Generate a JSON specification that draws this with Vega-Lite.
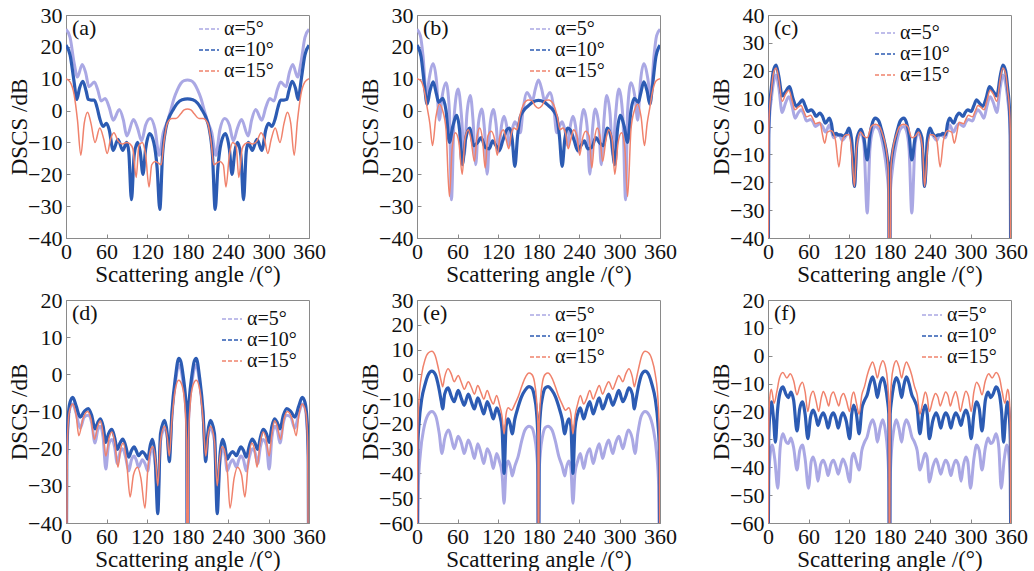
{
"$schema":"https://vega.github.io/schema/vega-lite/v6.json",
"background":"white",
"padding":{"left":8,"top":3,"right":5,"bottom":3},
"config":{
 "font":"'Liberation Serif', 'Times New Roman', 'DejaVu Serif', serif",
 "view":{"stroke":"#8a8a8a","strokeWidth":1},
 "axis":{"labelFont":"'Liberation Serif', 'Times New Roman', 'DejaVu Serif', serif","labelFontSize":22,"labelColor":"#111","titleFont":"'Liberation Serif', 'Times New Roman', 'DejaVu Serif', serif","titleFontSize":23,"titleFontWeight":"normal","titleColor":"#111","domainColor":"#8a8a8a","tickColor":"#8a8a8a","tickSize":-4,"grid":false,"labelPadding":8,"labelFlush":false,"labelOverlap":false,"labelBound":false},
 "axisX":{"titlePadding":1,"labelPadding":7},
 "axisY":{"titlePadding":-4},
 "legend":{"labelFont":"'Liberation Serif', 'Times New Roman', 'DejaVu Serif', serif","labelFontSize":20,"labelColor":"#111","symbolType":"stroke","symbolSize":400,"symbolStrokeWidth":1.6,"symbolDash":[4,2],"rowPadding":0,"padding":0,"labelOffset":4}
},
"datasets":{
"a5":[{"x":0,"y":25.5},{"x":6,"y":23},{"x":12,"y":15},{"x":17,"y":10.5},{"x":24,"y":14.5},{"x":29,"y":12},{"x":34,"y":7.5},{"x":42,"y":9},{"x":47,"y":6.5},{"x":52,"y":3},{"x":58,"y":3.8},{"x":64,"y":1},{"x":70,"y":-3},{"x":79,"y":0.3},{"x":85,"y":-3},{"x":90,"y":-8},{"x":100,"y":-2.8},{"x":106,"y":-5.5},{"x":112,"y":-9.5},{"x":118,"y":-4.5},{"x":125,"y":-2.5},{"x":132,"y":-6},{"x":138,"y":-14},{"x":144,"y":-7},{"x":150,"y":-3.5},{"x":155,"y":0},{"x":160,"y":3.8},{"x":165,"y":6.5},{"x":170,"y":8.5},{"x":175,"y":9.4},{"x":180,"y":9.6},{"x":185,"y":9.4},{"x":190,"y":8.5},{"x":195,"y":6.5},{"x":200,"y":3.8},{"x":205,"y":0},{"x":210,"y":-3.5},{"x":216,"y":-7},{"x":222,"y":-14},{"x":228,"y":-6},{"x":235,"y":-2.5},{"x":242,"y":-4.5},{"x":248,"y":-9.5},{"x":254,"y":-5.5},{"x":260,"y":-2.8},{"x":270,"y":-8},{"x":275,"y":-3},{"x":281,"y":0.3},{"x":290,"y":-3},{"x":296,"y":1},{"x":302,"y":3.8},{"x":308,"y":3},{"x":313,"y":6.5},{"x":318,"y":9},{"x":326,"y":7.5},{"x":331,"y":12},{"x":336,"y":14.5},{"x":343,"y":10.5},{"x":348,"y":15},{"x":354,"y":23},{"x":360,"y":25.5}],
"a10":[{"x":0,"y":20.5},{"x":6,"y":17.5},{"x":12,"y":9},{"x":16,"y":3.5},{"x":20,"y":7},{"x":25,"y":9.2},{"x":30,"y":6},{"x":33,"y":3.5},{"x":37,"y":3.3},{"x":42,"y":3.3},{"x":46,"y":1},{"x":50,"y":-2.5},{"x":55,"y":-5},{"x":60,"y":-4},{"x":64,"y":-6},{"x":70,"y":-12.5},{"x":77,"y":-9},{"x":84,"y":-12.5},{"x":90,"y":-10},{"x":93,"y":-13},{"x":97,"y":-28},{"x":101,"y":-14},{"x":106,"y":-10},{"x":110,"y":-13},{"x":114,"y":-20},{"x":118,"y":-12},{"x":124,"y":-7.2},{"x":130,"y":-10},{"x":135,"y":-18},{"x":139,"y":-31},{"x":143,"y":-14},{"x":148,"y":-5.5},{"x":153,"y":-2},{"x":158,"y":0},{"x":165,"y":2.3},{"x":172,"y":3.4},{"x":180,"y":3.7},{"x":188,"y":3.4},{"x":195,"y":2.3},{"x":202,"y":0},{"x":207,"y":-2},{"x":212,"y":-5.5},{"x":217,"y":-14},{"x":221,"y":-31},{"x":225,"y":-18},{"x":230,"y":-10},{"x":236,"y":-7.2},{"x":242,"y":-12},{"x":246,"y":-20},{"x":250,"y":-13},{"x":254,"y":-10},{"x":259,"y":-14},{"x":263,"y":-28},{"x":267,"y":-13},{"x":270,"y":-10},{"x":276,"y":-12.5},{"x":283,"y":-9},{"x":290,"y":-12.5},{"x":296,"y":-6},{"x":300,"y":-4},{"x":305,"y":-5},{"x":310,"y":-2.5},{"x":314,"y":1},{"x":318,"y":3.3},{"x":323,"y":3.3},{"x":327,"y":3.5},{"x":330,"y":6},{"x":335,"y":9.2},{"x":340,"y":7},{"x":344,"y":3.5},{"x":348,"y":9},{"x":354,"y":17.5},{"x":360,"y":20.5}],
"a15":[{"x":0,"y":10},{"x":6,"y":9},{"x":12,"y":5},{"x":17,"y":-3},{"x":22,"y":-14},{"x":27,"y":-4},{"x":32,"y":-0.5},{"x":37,"y":-4},{"x":43,"y":-10},{"x":50,"y":-5.5},{"x":56,"y":-9},{"x":61,"y":-13.5},{"x":66,"y":-9},{"x":71,"y":-7},{"x":77,"y":-9.5},{"x":84,"y":-10.5},{"x":90,"y":-10},{"x":95,"y":-10.5},{"x":99,"y":-12},{"x":104,"y":-21},{"x":108,"y":-11},{"x":113,"y":-10},{"x":118,"y":-14},{"x":123,"y":-24},{"x":127,"y":-17},{"x":132,"y":-16},{"x":137,"y":-16.5},{"x":141,"y":-17},{"x":145,"y":-10},{"x":150,"y":-4},{"x":157,"y":-2.5},{"x":163,"y":-2.5},{"x":170,"y":-1},{"x":175,"y":0.2},{"x":180,"y":0.5},{"x":185,"y":0.2},{"x":190,"y":-1},{"x":197,"y":-2.5},{"x":203,"y":-2.5},{"x":210,"y":-4},{"x":215,"y":-10},{"x":219,"y":-17},{"x":223,"y":-16.5},{"x":228,"y":-16},{"x":233,"y":-17},{"x":237,"y":-24},{"x":242,"y":-14},{"x":247,"y":-10},{"x":252,"y":-11},{"x":256,"y":-21},{"x":261,"y":-12},{"x":265,"y":-10.5},{"x":270,"y":-10},{"x":276,"y":-10.5},{"x":283,"y":-9.5},{"x":289,"y":-7},{"x":294,"y":-9},{"x":299,"y":-13.5},{"x":304,"y":-9},{"x":310,"y":-5.5},{"x":317,"y":-10},{"x":323,"y":-4},{"x":328,"y":-0.5},{"x":333,"y":-4},{"x":338,"y":-14},{"x":343,"y":-3},{"x":348,"y":5},{"x":354,"y":9},{"x":360,"y":10}],
"b5":[{"x":0,"y":25.5},{"x":5,"y":23.5},{"x":9,"y":17},{"x":14,"y":4},{"x":18,"y":10},{"x":24,"y":14.7},{"x":29,"y":9},{"x":33,"y":-3},{"x":37,"y":4},{"x":43,"y":8.7},{"x":48,"y":0},{"x":51,"y":-28},{"x":55,"y":-2},{"x":61,"y":6.8},{"x":66,"y":-2},{"x":70,"y":-14},{"x":74,"y":-1},{"x":79,"y":4.7},{"x":83,"y":-3},{"x":87,"y":-17},{"x":91,"y":-4},{"x":96,"y":0.5},{"x":100,"y":-6},{"x":104,"y":-20},{"x":108,"y":-5},{"x":113,"y":0.3},{"x":117,"y":-4},{"x":121,"y":-13},{"x":125,"y":-5},{"x":129,"y":-1.8},{"x":133,"y":-5},{"x":137,"y":-11},{"x":141,"y":-6},{"x":145,"y":-3.5},{"x":149,"y":-5},{"x":153,"y":-7},{"x":157,"y":0},{"x":163,"y":5.7},{"x":167,"y":4.5},{"x":171,"y":3},{"x":175,"y":6.5},{"x":180,"y":9.6},{"x":185,"y":6.5},{"x":189,"y":3},{"x":193,"y":4.5},{"x":197,"y":5.7},{"x":203,"y":0},{"x":207,"y":-7},{"x":211,"y":-5},{"x":215,"y":-3.5},{"x":219,"y":-6},{"x":223,"y":-11},{"x":227,"y":-5},{"x":231,"y":-1.8},{"x":235,"y":-5},{"x":239,"y":-13},{"x":243,"y":-4},{"x":247,"y":0.3},{"x":252,"y":-5},{"x":256,"y":-20},{"x":260,"y":-6},{"x":264,"y":0.5},{"x":269,"y":-4},{"x":273,"y":-17},{"x":277,"y":-3},{"x":281,"y":4.7},{"x":286,"y":-1},{"x":290,"y":-14},{"x":294,"y":-2},{"x":299,"y":6.8},{"x":305,"y":-2},{"x":309,"y":-28},{"x":312,"y":0},{"x":317,"y":8.7},{"x":323,"y":4},{"x":327,"y":-3},{"x":331,"y":9},{"x":336,"y":14.7},{"x":342,"y":10},{"x":346,"y":4},{"x":351,"y":17},{"x":355,"y":23.5},{"x":360,"y":25.5}],
"b10":[{"x":0,"y":20.5},{"x":6,"y":17},{"x":11,"y":8},{"x":15,"y":2},{"x":19,"y":6},{"x":24,"y":9},{"x":29,"y":5},{"x":32,"y":2.6},{"x":38,"y":3.8},{"x":43,"y":0},{"x":48,"y":-10},{"x":53,"y":-5},{"x":59,"y":-1.5},{"x":63,"y":-6},{"x":67,"y":-17},{"x":72,"y":-9},{"x":78,"y":-5.5},{"x":84,"y":-11},{"x":90,"y":-10},{"x":95,"y":-8.5},{"x":101,"y":-11.5},{"x":107,"y":-12},{"x":112,"y":-9.5},{"x":117,"y":-11},{"x":122,"y":-12.5},{"x":127,"y":-9.5},{"x":133,"y":-6},{"x":137,"y":-5.5},{"x":141,"y":-9},{"x":145,"y":-17.5},{"x":149,"y":-8},{"x":153,"y":-2},{"x":158,"y":0},{"x":165,"y":1.5},{"x":172,"y":2.7},{"x":180,"y":3.2},{"x":188,"y":2.7},{"x":195,"y":1.5},{"x":202,"y":0},{"x":207,"y":-2},{"x":211,"y":-8},{"x":215,"y":-17.5},{"x":219,"y":-9},{"x":223,"y":-5.5},{"x":227,"y":-6},{"x":233,"y":-9.5},{"x":238,"y":-12.5},{"x":243,"y":-11},{"x":248,"y":-9.5},{"x":253,"y":-12},{"x":259,"y":-11.5},{"x":265,"y":-8.5},{"x":270,"y":-10},{"x":276,"y":-11},{"x":282,"y":-5.5},{"x":288,"y":-9},{"x":293,"y":-17},{"x":297,"y":-6},{"x":301,"y":-1.5},{"x":307,"y":-5},{"x":312,"y":-10},{"x":317,"y":0},{"x":322,"y":3.8},{"x":328,"y":2.6},{"x":331,"y":5},{"x":336,"y":9},{"x":341,"y":6},{"x":345,"y":2},{"x":349,"y":8},{"x":354,"y":17},{"x":360,"y":20.5}],
"b15":[{"x":0,"y":10},{"x":6,"y":9.3},{"x":11,"y":6},{"x":15,"y":1},{"x":19,"y":-4},{"x":23,"y":-11},{"x":28,"y":-2},{"x":33,"y":2},{"x":38,"y":0},{"x":43,"y":-6},{"x":48,"y":-27},{"x":52,"y":-12},{"x":57,"y":-7},{"x":62,"y":-10},{"x":67,"y":-20},{"x":71,"y":-9},{"x":76,"y":-6},{"x":80,"y":-9},{"x":85,"y":-16},{"x":89,"y":-8},{"x":93,"y":-5.5},{"x":97,"y":-9},{"x":101,"y":-18},{"x":105,"y":-8},{"x":110,"y":-6.5},{"x":115,"y":-9},{"x":119,"y":-14},{"x":123,"y":-8},{"x":128,"y":-6},{"x":132,"y":-9},{"x":136,"y":-12},{"x":140,"y":-7},{"x":144,"y":-5.5},{"x":148,"y":-6},{"x":152,"y":-2},{"x":158,"y":2},{"x":165,"y":3.3},{"x":170,"y":3.2},{"x":175,"y":1.5},{"x":180,"y":0.7},{"x":185,"y":1.5},{"x":190,"y":3.2},{"x":195,"y":3.3},{"x":202,"y":2},{"x":208,"y":-2},{"x":212,"y":-6},{"x":216,"y":-5.5},{"x":220,"y":-7},{"x":224,"y":-12},{"x":228,"y":-9},{"x":232,"y":-6},{"x":237,"y":-8},{"x":241,"y":-14},{"x":245,"y":-9},{"x":250,"y":-6.5},{"x":255,"y":-8},{"x":259,"y":-18},{"x":263,"y":-9},{"x":267,"y":-5.5},{"x":271,"y":-8},{"x":275,"y":-16},{"x":280,"y":-9},{"x":284,"y":-6},{"x":289,"y":-9},{"x":293,"y":-20},{"x":298,"y":-10},{"x":303,"y":-7},{"x":308,"y":-12},{"x":312,"y":-27},{"x":317,"y":-6},{"x":322,"y":0},{"x":327,"y":2},{"x":332,"y":-2},{"x":337,"y":-11},{"x":341,"y":-4},{"x":345,"y":1},{"x":349,"y":6},{"x":354,"y":9.3},{"x":360,"y":10}],
"c5":[{"x":0,"y":-100},{"x":1,"y":-5},{"x":2,"y":2},{"x":5,"y":10},{"x":8,"y":15.5},{"x":12,"y":18.5},{"x":16,"y":14},{"x":21,"y":5},{"x":26,"y":8.5},{"x":31,"y":10.7},{"x":36,"y":7},{"x":40,"y":3},{"x":45,"y":5},{"x":49,"y":6},{"x":53,"y":4.5},{"x":57,"y":2},{"x":63,"y":2.5},{"x":67,"y":1.5},{"x":70,"y":0},{"x":77,"y":1},{"x":81,"y":0},{"x":85,"y":-2},{"x":91,"y":0.5},{"x":94,"y":-1.5},{"x":97,"y":-4},{"x":104,"y":-3},{"x":107,"y":-3.5},{"x":110,"y":-5},{"x":115,"y":-3.5},{"x":120,"y":-2},{"x":124,"y":-6},{"x":128,"y":-21.5},{"x":132,"y":-6},{"x":138,"y":-2.5},{"x":142,"y":-6},{"x":147,"y":-31},{"x":151,"y":-8},{"x":155,"y":-1.5},{"x":159,"y":0},{"x":164,"y":-1},{"x":168,"y":-4},{"x":172,"y":-9},{"x":176,"y":-16},{"x":179,"y":-25},{"x":180,"y":-100},{"x":181,"y":-25},{"x":184,"y":-16},{"x":188,"y":-9},{"x":192,"y":-4},{"x":196,"y":-1},{"x":201,"y":0},{"x":205,"y":-1.5},{"x":209,"y":-8},{"x":213,"y":-31},{"x":218,"y":-6},{"x":222,"y":-2.5},{"x":228,"y":-6},{"x":232,"y":-21.5},{"x":236,"y":-6},{"x":240,"y":-2},{"x":245,"y":-3.5},{"x":250,"y":-5},{"x":253,"y":-3.5},{"x":256,"y":-3},{"x":263,"y":-4},{"x":266,"y":-1.5},{"x":269,"y":0.5},{"x":275,"y":-2},{"x":279,"y":0},{"x":283,"y":1},{"x":290,"y":0},{"x":293,"y":1.5},{"x":297,"y":2.5},{"x":303,"y":2},{"x":307,"y":4.5},{"x":311,"y":6},{"x":315,"y":5},{"x":320,"y":3},{"x":324,"y":7},{"x":329,"y":10.7},{"x":334,"y":8.5},{"x":339,"y":5},{"x":344,"y":14},{"x":348,"y":18.5},{"x":352,"y":15.5},{"x":355,"y":10},{"x":358,"y":2},{"x":359,"y":-5},{"x":360,"y":-100}],
"c10":[{"x":0,"y":-100},{"x":1,"y":-3},{"x":2,"y":5},{"x":5,"y":14},{"x":8,"y":20},{"x":12,"y":22},{"x":16,"y":18},{"x":21,"y":11},{"x":26,"y":12.5},{"x":32,"y":14.3},{"x":37,"y":10},{"x":42,"y":7.2},{"x":47,"y":8.5},{"x":51,"y":9.6},{"x":55,"y":7.5},{"x":59,"y":5.4},{"x":64,"y":6},{"x":68,"y":5},{"x":71,"y":3.6},{"x":77,"y":4.8},{"x":81,"y":3.5},{"x":85,"y":1.2},{"x":91,"y":3},{"x":94,"y":1},{"x":97,"y":-3},{"x":101,"y":-2.5},{"x":104,"y":-3},{"x":108,"y":-3},{"x":112,"y":-3.5},{"x":116,"y":-2.5},{"x":120,"y":-0.6},{"x":124,"y":-5},{"x":128,"y":-21.5},{"x":132,"y":-4},{"x":138,"y":-1},{"x":142,"y":-4},{"x":147,"y":-12},{"x":151,"y":-3},{"x":155,"y":1.5},{"x":159,"y":3},{"x":164,"y":2},{"x":168,"y":-1},{"x":172,"y":-5},{"x":176,"y":-10},{"x":179,"y":-17},{"x":180,"y":-100},{"x":181,"y":-17},{"x":184,"y":-10},{"x":188,"y":-5},{"x":192,"y":-1},{"x":196,"y":2},{"x":201,"y":3},{"x":205,"y":1.5},{"x":209,"y":-3},{"x":213,"y":-12},{"x":218,"y":-4},{"x":222,"y":-1},{"x":228,"y":-4},{"x":232,"y":-21.5},{"x":236,"y":-5},{"x":240,"y":-0.6},{"x":244,"y":-2.5},{"x":248,"y":-3.5},{"x":252,"y":-3},{"x":256,"y":-3},{"x":259,"y":-2.5},{"x":263,"y":-3},{"x":266,"y":1},{"x":269,"y":3},{"x":275,"y":1.2},{"x":279,"y":3.5},{"x":283,"y":4.8},{"x":289,"y":3.6},{"x":292,"y":5},{"x":296,"y":6},{"x":301,"y":5.4},{"x":305,"y":7.5},{"x":309,"y":9.6},{"x":313,"y":8.5},{"x":318,"y":7.2},{"x":323,"y":10},{"x":328,"y":14.3},{"x":334,"y":12.5},{"x":339,"y":11},{"x":344,"y":18},{"x":348,"y":22},{"x":352,"y":20},{"x":355,"y":14},{"x":358,"y":5},{"x":359,"y":-3},{"x":360,"y":-100}],
"c15":[{"x":0,"y":-100},{"x":1,"y":-2},{"x":2,"y":5},{"x":5,"y":13},{"x":8,"y":19},{"x":12,"y":21},{"x":16,"y":17},{"x":21,"y":9},{"x":26,"y":11.5},{"x":31,"y":13},{"x":36,"y":9},{"x":40,"y":6},{"x":45,"y":7},{"x":49,"y":7.5},{"x":53,"y":5.5},{"x":57,"y":3.5},{"x":63,"y":4},{"x":67,"y":2.5},{"x":70,"y":1},{"x":77,"y":1.5},{"x":80,"y":-2},{"x":84,"y":-6},{"x":88,"y":-2},{"x":94,"y":-1.5},{"x":100,"y":-5},{"x":105,"y":-14.5},{"x":110,"y":-5},{"x":116,"y":-3},{"x":120,"y":-3},{"x":124,"y":-9},{"x":128,"y":-21.5},{"x":131,"y":-8},{"x":137,"y":-2},{"x":142,"y":-3.5},{"x":147,"y":-4},{"x":153,"y":0},{"x":159,"y":0.8},{"x":165,"y":0},{"x":170,"y":-3},{"x":175,"y":-8},{"x":178,"y":-15},{"x":180,"y":-100},{"x":182,"y":-15},{"x":185,"y":-8},{"x":190,"y":-3},{"x":195,"y":0},{"x":201,"y":0.8},{"x":207,"y":0},{"x":213,"y":-4},{"x":218,"y":-3.5},{"x":223,"y":-2},{"x":229,"y":-8},{"x":232,"y":-21.5},{"x":236,"y":-9},{"x":240,"y":-3},{"x":244,"y":-3},{"x":250,"y":-5},{"x":255,"y":-14.5},{"x":260,"y":-5},{"x":266,"y":-1.5},{"x":272,"y":-2},{"x":276,"y":-6},{"x":280,"y":-2},{"x":283,"y":1.5},{"x":290,"y":1},{"x":293,"y":2.5},{"x":297,"y":4},{"x":303,"y":3.5},{"x":307,"y":5.5},{"x":311,"y":7.5},{"x":315,"y":7},{"x":320,"y":6},{"x":324,"y":9},{"x":329,"y":13},{"x":334,"y":11.5},{"x":339,"y":9},{"x":344,"y":17},{"x":348,"y":21},{"x":352,"y":19},{"x":355,"y":13},{"x":358,"y":5},{"x":359,"y":-2},{"x":360,"y":-100}],
"d5":[{"x":0,"y":-100},{"x":1,"y":-24},{"x":3,"y":-14},{"x":6,"y":-9},{"x":10,"y":-8},{"x":15,"y":-10.5},{"x":21,"y":-14.5},{"x":27,"y":-11.5},{"x":33,"y":-11},{"x":38,"y":-13},{"x":43,"y":-18.5},{"x":47,"y":-15},{"x":51,"y":-14},{"x":55,"y":-17},{"x":59,"y":-25.5},{"x":63,"y":-19},{"x":68,"y":-17.5},{"x":72,"y":-19.5},{"x":76,"y":-24},{"x":80,"y":-21},{"x":84,"y":-20},{"x":88,"y":-22},{"x":93,"y":-26},{"x":97,"y":-23},{"x":101,"y":-22},{"x":104,"y":-23},{"x":107.5,"y":-25},{"x":113,"y":-23},{"x":117,"y":-24},{"x":121,"y":-26},{"x":125,"y":-21},{"x":128,"y":-20},{"x":132,"y":-24},{"x":136,"y":-33},{"x":140,"y":-18},{"x":146,"y":-14.5},{"x":150,"y":-17},{"x":153,"y":-22},{"x":157,"y":-11},{"x":162,"y":-2.5},{"x":167,"y":2.5},{"x":170,"y":1.5},{"x":174,"y":-3},{"x":177,"y":-8},{"x":179,"y":-16},{"x":180,"y":-100},{"x":181,"y":-16},{"x":183,"y":-8},{"x":186,"y":-3},{"x":190,"y":1.5},{"x":193,"y":2.5},{"x":198,"y":-2.5},{"x":203,"y":-11},{"x":207,"y":-22},{"x":210,"y":-17},{"x":214,"y":-14.5},{"x":220,"y":-18},{"x":224,"y":-33},{"x":228,"y":-24},{"x":232,"y":-20},{"x":235,"y":-21},{"x":239,"y":-26},{"x":243,"y":-24},{"x":247,"y":-23},{"x":252.5,"y":-25},{"x":256,"y":-23},{"x":259,"y":-22},{"x":263,"y":-23},{"x":267,"y":-26},{"x":272,"y":-22},{"x":276,"y":-20},{"x":280,"y":-21},{"x":284,"y":-24},{"x":288,"y":-19.5},{"x":292,"y":-17.5},{"x":297,"y":-19},{"x":301,"y":-25.5},{"x":305,"y":-17},{"x":309,"y":-14},{"x":313,"y":-15},{"x":317,"y":-18.5},{"x":322,"y":-13},{"x":327,"y":-11},{"x":333,"y":-11.5},{"x":339,"y":-14.5},{"x":345,"y":-10.5},{"x":350,"y":-8},{"x":354,"y":-9},{"x":357,"y":-14},{"x":359,"y":-24},{"x":360,"y":-100}],
"d10":[{"x":0,"y":-100},{"x":1,"y":-22},{"x":3,"y":-12},{"x":6,"y":-7.5},{"x":10,"y":-6.2},{"x":15,"y":-8.5},{"x":21,"y":-11.5},{"x":27,"y":-10},{"x":33,"y":-9.2},{"x":38,"y":-11},{"x":43,"y":-14.7},{"x":47,"y":-13},{"x":51,"y":-12},{"x":55,"y":-14},{"x":59,"y":-18.3},{"x":63,"y":-16},{"x":68,"y":-14.8},{"x":72,"y":-17},{"x":76,"y":-20.2},{"x":80,"y":-18.5},{"x":84,"y":-17.4},{"x":88,"y":-19},{"x":93,"y":-22.3},{"x":97,"y":-20.5},{"x":101,"y":-19.5},{"x":104,"y":-20.5},{"x":107.5,"y":-21.9},{"x":113,"y":-20.8},{"x":117,"y":-21.5},{"x":121,"y":-22.8},{"x":125,"y":-19},{"x":128,"y":-17.5},{"x":132,"y":-22},{"x":136,"y":-37.5},{"x":140,"y":-16},{"x":146,"y":-12.4},{"x":150,"y":-16},{"x":153,"y":-23.5},{"x":157,"y":-10},{"x":162,"y":-1},{"x":167,"y":4.3},{"x":170,"y":3.5},{"x":174,"y":-1},{"x":177,"y":-6},{"x":179,"y":-12},{"x":180,"y":-100},{"x":181,"y":-12},{"x":183,"y":-6},{"x":186,"y":-1},{"x":190,"y":3.5},{"x":193,"y":4.3},{"x":198,"y":-1},{"x":203,"y":-10},{"x":207,"y":-23.5},{"x":210,"y":-16},{"x":214,"y":-12.4},{"x":220,"y":-16},{"x":224,"y":-37.5},{"x":228,"y":-22},{"x":232,"y":-17.5},{"x":235,"y":-19},{"x":239,"y":-22.8},{"x":243,"y":-21.5},{"x":247,"y":-20.8},{"x":252.5,"y":-21.9},{"x":256,"y":-20.5},{"x":259,"y":-19.5},{"x":263,"y":-20.5},{"x":267,"y":-22.3},{"x":272,"y":-19},{"x":276,"y":-17.4},{"x":280,"y":-18.5},{"x":284,"y":-20.2},{"x":288,"y":-17},{"x":292,"y":-14.8},{"x":297,"y":-16},{"x":301,"y":-18.3},{"x":305,"y":-14},{"x":309,"y":-12},{"x":313,"y":-13},{"x":317,"y":-14.7},{"x":322,"y":-11},{"x":327,"y":-9.2},{"x":333,"y":-10},{"x":339,"y":-11.5},{"x":345,"y":-8.5},{"x":350,"y":-6.2},{"x":354,"y":-7.5},{"x":357,"y":-12},{"x":359,"y":-22},{"x":360,"y":-100}],
"d15":[{"x":0,"y":-100},{"x":2,"y":-18},{"x":5,"y":-10},{"x":10,"y":-8},{"x":15,"y":-11},{"x":19,"y":-16.5},{"x":25,"y":-12},{"x":32,"y":-10},{"x":37,"y":-12},{"x":42,"y":-17.5},{"x":47,"y":-14},{"x":51,"y":-12.5},{"x":55,"y":-16},{"x":59,"y":-22},{"x":64,"y":-17},{"x":68,"y":-15.5},{"x":72,"y":-18},{"x":77,"y":-25},{"x":81,"y":-20},{"x":85,"y":-18.5},{"x":90,"y":-24},{"x":95,"y":-33},{"x":100,"y":-27},{"x":106,"y":-25},{"x":111,"y":-28},{"x":117,"y":-36},{"x":121,"y":-26},{"x":126,"y":-20},{"x":129,"y":-19.5},{"x":133,"y":-24},{"x":136,"y":-30},{"x":140,"y":-18},{"x":146,"y":-14},{"x":150,"y":-17},{"x":153,"y":-22},{"x":157,"y":-12},{"x":162,"y":-4},{"x":167,"y":-1.6},{"x":172,"y":-3},{"x":176,"y":-8},{"x":178.5,"y":-18},{"x":180,"y":-100},{"x":181.5,"y":-18},{"x":184,"y":-8},{"x":188,"y":-3},{"x":193,"y":-1.6},{"x":198,"y":-4},{"x":203,"y":-12},{"x":207,"y":-22},{"x":210,"y":-17},{"x":214,"y":-14},{"x":220,"y":-18},{"x":224,"y":-30},{"x":227,"y":-24},{"x":231,"y":-19.5},{"x":234,"y":-20},{"x":239,"y":-26},{"x":243,"y":-36},{"x":249,"y":-28},{"x":254,"y":-25},{"x":260,"y":-27},{"x":265,"y":-33},{"x":270,"y":-24},{"x":275,"y":-18.5},{"x":279,"y":-20},{"x":283,"y":-25},{"x":288,"y":-18},{"x":292,"y":-15.5},{"x":296,"y":-17},{"x":301,"y":-22},{"x":305,"y":-16},{"x":309,"y":-12.5},{"x":313,"y":-14},{"x":318,"y":-17.5},{"x":323,"y":-12},{"x":328,"y":-10},{"x":335,"y":-12},{"x":341,"y":-16.5},{"x":345,"y":-11},{"x":350,"y":-8},{"x":355,"y":-10},{"x":358,"y":-18},{"x":360,"y":-100}],
"e5":[{"x":0,"y":-100},{"x":2,"y":-45},{"x":5,"y":-32},{"x":10,"y":-22},{"x":16,"y":-16.5},{"x":22,"y":-15},{"x":28,"y":-17},{"x":33,"y":-24},{"x":37,"y":-32},{"x":41,"y":-26},{"x":47,"y":-22.5},{"x":51,"y":-26},{"x":55,"y":-30},{"x":61,"y":-25},{"x":66,"y":-28},{"x":70,"y":-32},{"x":76,"y":-26.5},{"x":81,"y":-30},{"x":85,"y":-34},{"x":90,"y":-28},{"x":95,"y":-32},{"x":99,"y":-36},{"x":104,"y":-30},{"x":109,"y":-33},{"x":113,"y":-38},{"x":118,"y":-32},{"x":122,"y":-35},{"x":126,"y":-40},{"x":129,"y":-52},{"x":132,"y":-38},{"x":135,"y":-35},{"x":139,"y":-38},{"x":141,"y":-41},{"x":145,"y":-37},{"x":150,"y":-33},{"x":155,"y":-27},{"x":160,"y":-22.5},{"x":166,"y":-21},{"x":170,"y":-21.5},{"x":174,"y":-25},{"x":177,"y":-31},{"x":179,"y":-40},{"x":180,"y":-100},{"x":181,"y":-40},{"x":183,"y":-31},{"x":186,"y":-25},{"x":190,"y":-21.5},{"x":194,"y":-21},{"x":200,"y":-22.5},{"x":205,"y":-27},{"x":210,"y":-33},{"x":215,"y":-37},{"x":219,"y":-41},{"x":221,"y":-38},{"x":225,"y":-35},{"x":228,"y":-38},{"x":231,"y":-52},{"x":234,"y":-40},{"x":238,"y":-35},{"x":242,"y":-32},{"x":247,"y":-38},{"x":251,"y":-33},{"x":256,"y":-30},{"x":261,"y":-36},{"x":265,"y":-32},{"x":270,"y":-28},{"x":275,"y":-34},{"x":279,"y":-30},{"x":284,"y":-26.5},{"x":290,"y":-32},{"x":294,"y":-28},{"x":299,"y":-25},{"x":305,"y":-30},{"x":309,"y":-26},{"x":313,"y":-22.5},{"x":319,"y":-26},{"x":323,"y":-32},{"x":327,"y":-24},{"x":332,"y":-17},{"x":338,"y":-15},{"x":344,"y":-16.5},{"x":350,"y":-22},{"x":355,"y":-32},{"x":358,"y":-45},{"x":360,"y":-100}],
"e10":[{"x":0,"y":-100},{"x":1,"y":-30},{"x":3,"y":-20},{"x":7,"y":-10},{"x":12,"y":-4},{"x":17,"y":0},{"x":22,"y":1.3},{"x":27,"y":0},{"x":32,"y":-5},{"x":36,"y":-11},{"x":38,"y":-14},{"x":41,"y":-8},{"x":46,"y":-5.5},{"x":51,"y":-9},{"x":55,"y":-11},{"x":61,"y":-6.5},{"x":66,"y":-10},{"x":70,"y":-12.5},{"x":76,"y":-8},{"x":81,"y":-11.5},{"x":85,"y":-14},{"x":90,"y":-9.5},{"x":95,"y":-13},{"x":99,"y":-16},{"x":104,"y":-11},{"x":109,"y":-14.5},{"x":113,"y":-18},{"x":118,"y":-13.5},{"x":122,"y":-16},{"x":126,"y":-22},{"x":129,"y":-40},{"x":132,"y":-21},{"x":135,"y":-18},{"x":138,"y":-20},{"x":141,"y":-24},{"x":145,"y":-18},{"x":150,"y":-13},{"x":155,"y":-9},{"x":160,"y":-6.5},{"x":166,"y":-5},{"x":170,"y":-5.5},{"x":174,"y":-9},{"x":177,"y":-15},{"x":179,"y":-25},{"x":180,"y":-100},{"x":181,"y":-25},{"x":183,"y":-15},{"x":186,"y":-9},{"x":190,"y":-5.5},{"x":194,"y":-5},{"x":200,"y":-6.5},{"x":205,"y":-9},{"x":210,"y":-13},{"x":215,"y":-18},{"x":219,"y":-24},{"x":222,"y":-20},{"x":225,"y":-18},{"x":228,"y":-21},{"x":231,"y":-40},{"x":234,"y":-22},{"x":238,"y":-16},{"x":242,"y":-13.5},{"x":247,"y":-18},{"x":251,"y":-14.5},{"x":256,"y":-11},{"x":261,"y":-16},{"x":265,"y":-13},{"x":270,"y":-9.5},{"x":275,"y":-14},{"x":279,"y":-11.5},{"x":284,"y":-8},{"x":290,"y":-12.5},{"x":294,"y":-10},{"x":299,"y":-6.5},{"x":305,"y":-11},{"x":309,"y":-9},{"x":314,"y":-5.5},{"x":319,"y":-8},{"x":322,"y":-14},{"x":324,"y":-11},{"x":328,"y":-5},{"x":333,"y":0},{"x":338,"y":1.3},{"x":343,"y":0},{"x":348,"y":-4},{"x":353,"y":-10},{"x":357,"y":-20},{"x":359,"y":-30},{"x":360,"y":-100}],
"e15":[{"x":0,"y":-100},{"x":1,"y":-25},{"x":3,"y":-10},{"x":7,"y":0},{"x":12,"y":6},{"x":17,"y":8.7},{"x":22,"y":9.3},{"x":27,"y":7.5},{"x":32,"y":2},{"x":36,"y":-3},{"x":38,"y":-5},{"x":41,"y":-1},{"x":46,"y":2.3},{"x":51,"y":0},{"x":55,"y":-3},{"x":61,"y":-0.5},{"x":66,"y":-3.5},{"x":70,"y":-6},{"x":76,"y":-3},{"x":81,"y":-5.5},{"x":85,"y":-8},{"x":90,"y":-4.5},{"x":95,"y":-7.5},{"x":99,"y":-10},{"x":104,"y":-6.5},{"x":109,"y":-10},{"x":113,"y":-12},{"x":118,"y":-8.5},{"x":122,"y":-12},{"x":126,"y":-17},{"x":129,"y":-24},{"x":132,"y":-16},{"x":135,"y":-13.5},{"x":140,"y":-14.5},{"x":145,"y":-12},{"x":150,"y":-9},{"x":155,"y":-5},{"x":160,"y":-1.5},{"x":166,"y":0.5},{"x":170,"y":0},{"x":174,"y":-3},{"x":177,"y":-10},{"x":179,"y":-20},{"x":180,"y":-100},{"x":181,"y":-20},{"x":183,"y":-10},{"x":186,"y":-3},{"x":190,"y":0},{"x":194,"y":0.5},{"x":200,"y":-1.5},{"x":205,"y":-5},{"x":210,"y":-9},{"x":215,"y":-12},{"x":220,"y":-14.5},{"x":225,"y":-13.5},{"x":228,"y":-16},{"x":231,"y":-24},{"x":234,"y":-17},{"x":238,"y":-12},{"x":242,"y":-8.5},{"x":247,"y":-12},{"x":251,"y":-10},{"x":256,"y":-6.5},{"x":261,"y":-10},{"x":265,"y":-7.5},{"x":270,"y":-4.5},{"x":275,"y":-8},{"x":279,"y":-5.5},{"x":284,"y":-3},{"x":290,"y":-6},{"x":294,"y":-3.5},{"x":299,"y":-0.5},{"x":305,"y":-3},{"x":309,"y":0},{"x":314,"y":2.3},{"x":319,"y":-1},{"x":322,"y":-5},{"x":324,"y":-3},{"x":328,"y":2},{"x":333,"y":7.5},{"x":338,"y":9.3},{"x":343,"y":8.7},{"x":348,"y":6},{"x":353,"y":0},{"x":357,"y":-10},{"x":359,"y":-25},{"x":360,"y":-100}],
"f5":[{"x":0,"y":-100},{"x":1,"y":-45},{"x":3,"y":-36},{"x":6,"y":-32},{"x":10,"y":-37},{"x":14.5,"y":-47.5},{"x":18,"y":-33},{"x":22,"y":-28},{"x":27,"y":-31},{"x":30,"y":-31.5},{"x":34,"y":-29.5},{"x":38,"y":-33},{"x":43,"y":-41},{"x":47,"y":-34},{"x":51,"y":-32},{"x":55,"y":-37},{"x":60,"y":-47.5},{"x":64,"y":-38},{"x":67,"y":-36.3},{"x":71,"y":-40},{"x":74,"y":-45},{"x":78,"y":-39},{"x":82,"y":-37.5},{"x":86,"y":-40},{"x":89,"y":-43},{"x":93,"y":-39},{"x":97,"y":-37.5},{"x":101,"y":-40},{"x":104,"y":-42.5},{"x":108,"y":-39},{"x":111,"y":-37},{"x":116,"y":-40},{"x":121,"y":-45.3},{"x":124,"y":-37},{"x":127,"y":-35},{"x":131,"y":-38},{"x":135,"y":-41},{"x":139,"y":-34},{"x":143,"y":-31},{"x":147,"y":-29},{"x":151,"y":-25},{"x":155,"y":-23},{"x":159,"y":-26},{"x":162,"y":-31},{"x":166,"y":-26},{"x":170,"y":-23},{"x":174,"y":-27},{"x":177,"y":-34},{"x":179,"y":-45},{"x":180,"y":-100},{"x":181,"y":-45},{"x":183,"y":-34},{"x":186,"y":-27},{"x":190,"y":-23},{"x":194,"y":-26},{"x":198,"y":-31},{"x":201,"y":-26},{"x":205,"y":-23},{"x":209,"y":-25},{"x":213,"y":-29},{"x":217,"y":-31},{"x":221,"y":-34},{"x":225,"y":-41},{"x":229,"y":-38},{"x":233,"y":-35},{"x":236,"y":-37},{"x":239,"y":-45.3},{"x":244,"y":-40},{"x":249,"y":-37},{"x":252,"y":-39},{"x":256,"y":-42.5},{"x":259,"y":-40},{"x":263,"y":-37.5},{"x":267,"y":-39},{"x":271,"y":-43},{"x":274,"y":-40},{"x":278,"y":-37.5},{"x":282,"y":-39},{"x":286,"y":-45},{"x":289,"y":-40},{"x":293,"y":-36.3},{"x":296,"y":-38},{"x":300,"y":-47.5},{"x":305,"y":-37},{"x":309,"y":-32},{"x":313,"y":-34},{"x":317,"y":-41},{"x":322,"y":-33},{"x":326,"y":-29.5},{"x":330,"y":-31.5},{"x":333,"y":-31},{"x":338,"y":-28},{"x":342,"y":-33},{"x":345.5,"y":-47.5},{"x":350,"y":-37},{"x":354,"y":-32},{"x":357,"y":-36},{"x":359,"y":-45},{"x":360,"y":-100}],
"f10":[{"x":0,"y":-100},{"x":1,"y":-30},{"x":3,"y":-20},{"x":5,"y":-16.5},{"x":8,"y":-22},{"x":11,"y":-31},{"x":14,"y":-20},{"x":18,"y":-13},{"x":22,"y":-11.2},{"x":27,"y":-14},{"x":30,"y":-15},{"x":34,"y":-13},{"x":38,"y":-16},{"x":43,"y":-27},{"x":47,"y":-19},{"x":51,"y":-16.5},{"x":55,"y":-21},{"x":59,"y":-29.7},{"x":63,"y":-22},{"x":67,"y":-19.5},{"x":71,"y":-22},{"x":74,"y":-25},{"x":78,"y":-22},{"x":82,"y":-20.5},{"x":86,"y":-23},{"x":89,"y":-26},{"x":93,"y":-22},{"x":97,"y":-20.5},{"x":101,"y":-23},{"x":104,"y":-26},{"x":108,"y":-22},{"x":111,"y":-20.5},{"x":116,"y":-23.5},{"x":121,"y":-29.7},{"x":124,"y":-21},{"x":127,"y":-17.7},{"x":131,"y":-21},{"x":135,"y":-28},{"x":139,"y":-19},{"x":143,"y":-16},{"x":147,"y":-14},{"x":151,"y":-10},{"x":155,"y":-7.6},{"x":159,"y":-11},{"x":162,"y":-15},{"x":166,"y":-10},{"x":170,"y":-7.8},{"x":174,"y":-11},{"x":177,"y":-16},{"x":179,"y":-21},{"x":180,"y":-100},{"x":181,"y":-21},{"x":183,"y":-16},{"x":186,"y":-11},{"x":190,"y":-7.8},{"x":194,"y":-10},{"x":198,"y":-15},{"x":201,"y":-11},{"x":205,"y":-7.6},{"x":209,"y":-10},{"x":213,"y":-14},{"x":217,"y":-16},{"x":221,"y":-19},{"x":225,"y":-28},{"x":229,"y":-21},{"x":233,"y":-17.7},{"x":236,"y":-21},{"x":239,"y":-29.7},{"x":244,"y":-23.5},{"x":249,"y":-20.5},{"x":252,"y":-22},{"x":256,"y":-26},{"x":259,"y":-23},{"x":263,"y":-20.5},{"x":267,"y":-22},{"x":271,"y":-26},{"x":274,"y":-23},{"x":278,"y":-20.5},{"x":282,"y":-22},{"x":286,"y":-25},{"x":289,"y":-22},{"x":293,"y":-19.5},{"x":297,"y":-22},{"x":301,"y":-29.7},{"x":305,"y":-21},{"x":309,"y":-16.5},{"x":313,"y":-19},{"x":317,"y":-27},{"x":322,"y":-16},{"x":326,"y":-13},{"x":330,"y":-15},{"x":333,"y":-14},{"x":338,"y":-11.2},{"x":342,"y":-13},{"x":346,"y":-20},{"x":349,"y":-31},{"x":352,"y":-22},{"x":355,"y":-16.5},{"x":357,"y":-20},{"x":359,"y":-30},{"x":360,"y":-100}],
"f15":[{"x":0,"y":-100},{"x":1,"y":-25},{"x":3,"y":-14},{"x":5,"y":-12},{"x":9,"y":-17},{"x":13,"y":-13},{"x":17,"y":-8},{"x":22,"y":-6},{"x":28,"y":-8},{"x":33,"y":-6.5},{"x":38,"y":-9},{"x":43,"y":-14},{"x":47,"y":-11},{"x":51,"y":-9.5},{"x":55,"y":-13},{"x":59,"y":-20},{"x":63,"y":-14.5},{"x":67,"y":-12.7},{"x":71,"y":-16},{"x":75,"y":-20},{"x":79,"y":-15},{"x":82,"y":-12.8},{"x":86,"y":-15},{"x":90,"y":-18},{"x":93,"y":-14.5},{"x":97,"y":-13},{"x":101,"y":-15.5},{"x":105,"y":-18},{"x":108,"y":-15},{"x":112,"y":-13.5},{"x":116,"y":-16},{"x":121,"y":-20},{"x":124,"y":-15},{"x":127,"y":-13},{"x":131,"y":-17},{"x":135,"y":-21},{"x":139,"y":-14},{"x":143,"y":-11},{"x":147,"y":-7},{"x":151,"y":-4},{"x":155,"y":-2.2},{"x":159,"y":-5},{"x":162,"y":-8},{"x":166,"y":-4},{"x":170,"y":-1.8},{"x":174,"y":-4},{"x":177,"y":-9},{"x":179,"y":-18},{"x":180,"y":-100},{"x":181,"y":-18},{"x":183,"y":-9},{"x":186,"y":-4},{"x":190,"y":-1.8},{"x":194,"y":-4},{"x":198,"y":-8},{"x":201,"y":-5},{"x":205,"y":-2.2},{"x":209,"y":-4},{"x":213,"y":-7},{"x":217,"y":-11},{"x":221,"y":-14},{"x":225,"y":-21},{"x":229,"y":-17},{"x":233,"y":-13},{"x":236,"y":-15},{"x":239,"y":-20},{"x":244,"y":-16},{"x":248,"y":-13.5},{"x":252,"y":-15},{"x":255,"y":-18},{"x":259,"y":-15.5},{"x":263,"y":-13},{"x":267,"y":-14.5},{"x":270,"y":-18},{"x":274,"y":-15},{"x":278,"y":-12.8},{"x":281,"y":-15},{"x":285,"y":-20},{"x":289,"y":-16},{"x":293,"y":-12.7},{"x":297,"y":-14.5},{"x":301,"y":-20},{"x":305,"y":-13},{"x":309,"y":-9.5},{"x":313,"y":-11},{"x":317,"y":-14},{"x":322,"y":-9},{"x":327,"y":-6.5},{"x":332,"y":-8},{"x":338,"y":-6},{"x":343,"y":-8},{"x":347,"y":-13},{"x":351,"y":-17},{"x":355,"y":-12},{"x":357,"y":-14},{"x":359,"y":-25},{"x":360,"y":-100}]
},
"columns":3,
"spacing":{"row":62,"column":108},
"bounds":"flush",
"resolve":{"scale":{"color":"independent"},"legend":{"color":"independent"}},
"concat":[
{"width":243,"height":223,
 "resolve":{"scale":{"x":"independent","y":"independent"},"axis":{"x":"independent","y":"independent"}},
 "layer":[
  {"encoding":{"x":{"field":"x","type":"quantitative","scale":{"domain":[0,360],"nice":false},"axis":{"values":[0,60,120,180,240,300,360],"title":"Scattering angle /(°)"}},"y":{"field":"y","type":"quantitative","scale":{"domain":[-40,30],"nice":false},"axis":{"values":[-40,-30,-20,-10,0,10,20,30],"title":"DSCS /dB"}}},
   "layer":[
   {"data":{"name":"a5"},"mark":{"type":"line","interpolate":"monotone","clip":true,"strokeWidth":3},"encoding":{"color":{"datum":"α=5°","type":"nominal","scale":{"domain":["α=5°","α=10°","α=15°"],"range":["#aaa8e4","#2c5bb3","#f0826c"]},"legend":{"orient":"none","legendX":132,"legendY":3,"title":null}}}},
   {"data":{"name":"a10"},"mark":{"type":"line","interpolate":"monotone","clip":true,"strokeWidth":3.2},"encoding":{"color":{"datum":"α=10°","type":"nominal"}}},
   {"data":{"name":"a15"},"mark":{"type":"line","interpolate":"monotone","clip":true,"strokeWidth":1.5},"encoding":{"color":{"datum":"α=15°","type":"nominal"}}}
  ]},
  {"data":{"values":[{"label":"(a)"}]},"mark":{"type":"text","align":"left","baseline":"top","dx":6,"dy":3,"fontSize":22,"font":"Liberation Serif","fill":"#111"},"encoding":{"x":{"datum":0,"type":"quantitative","scale":{"domain":[0,1]},"axis":null},"y":{"datum":1,"type":"quantitative","scale":{"domain":[0,1]},"axis":null},"text":{"field":"label","type":"nominal"}}}
 ]},
{"width":243,"height":223,
 "resolve":{"scale":{"x":"independent","y":"independent"},"axis":{"x":"independent","y":"independent"}},
 "layer":[
  {"encoding":{"x":{"field":"x","type":"quantitative","scale":{"domain":[0,360],"nice":false},"axis":{"values":[0,60,120,180,240,300,360],"title":"Scattering angle /(°)"}},"y":{"field":"y","type":"quantitative","scale":{"domain":[-40,30],"nice":false},"axis":{"values":[-40,-30,-20,-10,0,10,20,30],"title":"DSCS /dB"}}},
   "layer":[
   {"data":{"name":"b5"},"mark":{"type":"line","interpolate":"monotone","clip":true,"strokeWidth":3},"encoding":{"color":{"datum":"α=5°","type":"nominal","scale":{"domain":["α=5°","α=10°","α=15°"],"range":["#aaa8e4","#2c5bb3","#f0826c"]},"legend":{"orient":"none","legendX":112,"legendY":3,"title":null}}}},
   {"data":{"name":"b10"},"mark":{"type":"line","interpolate":"monotone","clip":true,"strokeWidth":3.2},"encoding":{"color":{"datum":"α=10°","type":"nominal"}}},
   {"data":{"name":"b15"},"mark":{"type":"line","interpolate":"monotone","clip":true,"strokeWidth":1.5},"encoding":{"color":{"datum":"α=15°","type":"nominal"}}}
  ]},
  {"data":{"values":[{"label":"(b)"}]},"mark":{"type":"text","align":"left","baseline":"top","dx":6,"dy":3,"fontSize":22,"font":"Liberation Serif","fill":"#111"},"encoding":{"x":{"datum":0,"type":"quantitative","scale":{"domain":[0,1]},"axis":null},"y":{"datum":1,"type":"quantitative","scale":{"domain":[0,1]},"axis":null},"text":{"field":"label","type":"nominal"}}}
 ]},
{"width":243,"height":223,
 "resolve":{"scale":{"x":"independent","y":"independent"},"axis":{"x":"independent","y":"independent"}},
 "layer":[
  {"encoding":{"x":{"field":"x","type":"quantitative","scale":{"domain":[0,360],"nice":false},"axis":{"values":[0,60,120,180,240,300,360],"title":"Scattering angle /(°)"}},"y":{"field":"y","type":"quantitative","scale":{"domain":[-40,40],"nice":false},"axis":{"values":[-40,-30,-20,-10,0,10,20,30,40],"title":"DSCS /dB"}}},
   "layer":[
   {"data":{"name":"c5"},"mark":{"type":"line","interpolate":"monotone","clip":true,"strokeWidth":3},"encoding":{"color":{"datum":"α=5°","type":"nominal","scale":{"domain":["α=5°","α=10°","α=15°"],"range":["#aaa8e4","#2c5bb3","#f0826c"]},"legend":{"orient":"none","legendX":106,"legendY":7,"title":null}}}},
   {"data":{"name":"c10"},"mark":{"type":"line","interpolate":"monotone","clip":true,"strokeWidth":3.2},"encoding":{"color":{"datum":"α=10°","type":"nominal"}}},
   {"data":{"name":"c15"},"mark":{"type":"line","interpolate":"monotone","clip":true,"strokeWidth":1.5},"encoding":{"color":{"datum":"α=15°","type":"nominal"}}}
  ]},
  {"data":{"values":[{"label":"(c)"}]},"mark":{"type":"text","align":"left","baseline":"top","dx":6,"dy":3,"fontSize":22,"font":"Liberation Serif","fill":"#111"},"encoding":{"x":{"datum":0,"type":"quantitative","scale":{"domain":[0,1]},"axis":null},"y":{"datum":1,"type":"quantitative","scale":{"domain":[0,1]},"axis":null},"text":{"field":"label","type":"nominal"}}}
 ]},
{"width":243,"height":223,
 "resolve":{"scale":{"x":"independent","y":"independent"},"axis":{"x":"independent","y":"independent"}},
 "layer":[
  {"encoding":{"x":{"field":"x","type":"quantitative","scale":{"domain":[0,360],"nice":false},"axis":{"values":[0,60,120,180,240,300,360],"title":"Scattering angle /(°)"}},"y":{"field":"y","type":"quantitative","scale":{"domain":[-40,20],"nice":false},"axis":{"values":[-40,-30,-20,-10,0,10,20],"title":"DSCS /dB"}}},
   "layer":[
   {"data":{"name":"d5"},"mark":{"type":"line","interpolate":"monotone","clip":true,"strokeWidth":3},"encoding":{"color":{"datum":"α=5°","type":"nominal","scale":{"domain":["α=5°","α=10°","α=15°"],"range":["#aaa8e4","#2c5bb3","#f0826c"]},"legend":{"orient":"none","legendX":155,"legendY":8,"title":null}}}},
   {"data":{"name":"d10"},"mark":{"type":"line","interpolate":"monotone","clip":true,"strokeWidth":3.2},"encoding":{"color":{"datum":"α=10°","type":"nominal"}}},
   {"data":{"name":"d15"},"mark":{"type":"line","interpolate":"monotone","clip":true,"strokeWidth":1.5},"encoding":{"color":{"datum":"α=15°","type":"nominal"}}}
  ]},
  {"data":{"values":[{"label":"(d)"}]},"mark":{"type":"text","align":"left","baseline":"top","dx":6,"dy":3,"fontSize":22,"font":"Liberation Serif","fill":"#111"},"encoding":{"x":{"datum":0,"type":"quantitative","scale":{"domain":[0,1]},"axis":null},"y":{"datum":1,"type":"quantitative","scale":{"domain":[0,1]},"axis":null},"text":{"field":"label","type":"nominal"}}}
 ]},
{"width":243,"height":223,
 "resolve":{"scale":{"x":"independent","y":"independent"},"axis":{"x":"independent","y":"independent"}},
 "layer":[
  {"encoding":{"x":{"field":"x","type":"quantitative","scale":{"domain":[0,360],"nice":false},"axis":{"values":[0,60,120,180,240,300,360],"title":"Scattering angle /(°)"}},"y":{"field":"y","type":"quantitative","scale":{"domain":[-60,30],"nice":false},"axis":{"values":[-60,-50,-40,-30,-20,-10,0,10,20,30],"title":"DSCS /dB"}}},
   "layer":[
   {"data":{"name":"e5"},"mark":{"type":"line","interpolate":"monotone","clip":true,"strokeWidth":3},"encoding":{"color":{"datum":"α=5°","type":"nominal","scale":{"domain":["α=5°","α=10°","α=15°"],"range":["#aaa8e4","#2c5bb3","#f0826c"]},"legend":{"orient":"none","legendX":112,"legendY":4,"title":null}}}},
   {"data":{"name":"e10"},"mark":{"type":"line","interpolate":"monotone","clip":true,"strokeWidth":3.2},"encoding":{"color":{"datum":"α=10°","type":"nominal"}}},
   {"data":{"name":"e15"},"mark":{"type":"line","interpolate":"monotone","clip":true,"strokeWidth":1.5},"encoding":{"color":{"datum":"α=15°","type":"nominal"}}}
  ]},
  {"data":{"values":[{"label":"(e)"}]},"mark":{"type":"text","align":"left","baseline":"top","dx":6,"dy":3,"fontSize":22,"font":"Liberation Serif","fill":"#111"},"encoding":{"x":{"datum":0,"type":"quantitative","scale":{"domain":[0,1]},"axis":null},"y":{"datum":1,"type":"quantitative","scale":{"domain":[0,1]},"axis":null},"text":{"field":"label","type":"nominal"}}}
 ]},
{"width":243,"height":223,
 "resolve":{"scale":{"x":"independent","y":"independent"},"axis":{"x":"independent","y":"independent"}},
 "layer":[
  {"encoding":{"x":{"field":"x","type":"quantitative","scale":{"domain":[0,360],"nice":false},"axis":{"values":[0,60,120,180,240,300,360],"title":"Scattering angle /(°)"}},"y":{"field":"y","type":"quantitative","scale":{"domain":[-60,20],"nice":false},"axis":{"values":[-60,-50,-40,-30,-20,-10,0,10,20],"title":"DSCS /dB"}}},
   "layer":[
   {"data":{"name":"f5"},"mark":{"type":"line","interpolate":"monotone","clip":true,"strokeWidth":3},"encoding":{"color":{"datum":"α=5°","type":"nominal","scale":{"domain":["α=5°","α=10°","α=15°"],"range":["#aaa8e4","#2c5bb3","#f0826c"]},"legend":{"orient":"none","legendX":153,"legendY":4,"title":null}}}},
   {"data":{"name":"f10"},"mark":{"type":"line","interpolate":"monotone","clip":true,"strokeWidth":3.2},"encoding":{"color":{"datum":"α=10°","type":"nominal"}}},
   {"data":{"name":"f15"},"mark":{"type":"line","interpolate":"monotone","clip":true,"strokeWidth":1.5},"encoding":{"color":{"datum":"α=15°","type":"nominal"}}}
  ]},
  {"data":{"values":[{"label":"(f)"}]},"mark":{"type":"text","align":"left","baseline":"top","dx":6,"dy":3,"fontSize":22,"font":"Liberation Serif","fill":"#111"},"encoding":{"x":{"datum":0,"type":"quantitative","scale":{"domain":[0,1]},"axis":null},"y":{"datum":1,"type":"quantitative","scale":{"domain":[0,1]},"axis":null},"text":{"field":"label","type":"nominal"}}}
 ]}
]
}
